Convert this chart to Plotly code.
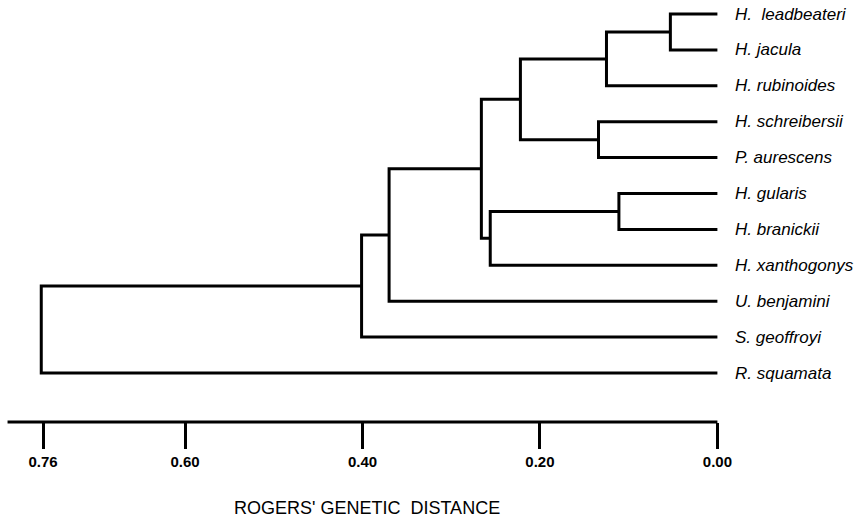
import plotly.graph_objects as go

# ---- data ----
leaves = ["H.  leadbeateri", "H. jacula", "H. rubinoides", "H. schreibersii",
          "P. aurescens", "H. gularis", "H. branickii", "H. xanthogonys",
          "U. benjamini", "S. geoffroyi", "R. squamata"]
# merges: (left child, right child, Rogers' distance); children are leaf names or node ids
merge_left = ["H.  leadbeateri", "n1", "H. schreibersii", "n2", "H. gularis", "n5", "n4", "n7", "n8", "n9"]
merge_right = ["H. jacula", "H. rubinoides", "P. aurescens", "n3", "H. branickii", "H. xanthogonys", "n6", "U. benjamini", "S. geoffroyi", "R. squamata"]
merge_height = [0.053, 0.125, 0.134, 0.222, 0.111, 0.256, 0.266, 0.370, 0.401, 0.762]
tick_values = [0.76, 0.60, 0.40, 0.20, 0.00]
tick_labels = ["0.76", "0.60", "0.40", "0.20", "0.00"]
axis_title = "ROGERS' GENETIC  DISTANCE"

# ---- build tree coordinates ----
pos = {name: (0.0, i) for i, name in enumerate(leaves)}
xs, ys = [], []
for i, (a, b, h) in enumerate(zip(merge_left, merge_right, merge_height)):
    xa, ya = pos[a]
    xb, yb = pos[b]
    xs += [xa, h, h, xb, None]
    ys += [ya, ya, yb, yb, None]
    pos["n%d" % (i + 1)] = (h, (ya + yb) / 2)

fig = go.Figure()
fig.add_trace(go.Scatter(x=xs, y=ys, mode="lines",
                         line=dict(color="black", width=3),
                         hoverinfo="skip", showlegend=False))

for i, name in enumerate(leaves):
    fig.add_annotation(x=0, y=i, text=name, showarrow=False, xanchor="left",
                       xshift=16, yanchor="middle",
                       font=dict(family="Liberation Sans, Arial", size=17,
                                 color="black", style="italic"))

# axis baseline
fig.add_shape(type="line", xref="x", yref="paper", x0=0.80, x1=0.0, y0=0, y1=0,
              line=dict(color="black", width=3))

fig.add_annotation(xref="paper", yref="paper", x=367 / 867, y=0, yshift=-86,
                   text=axis_title, showarrow=False, xanchor="center", yanchor="middle",
                   font=dict(family="Liberation Sans Narrow, Liberation Sans, Arial",
                             size=18, color="black"))

fig.update_xaxes(range=[0.8085, -0.1686], showgrid=False, zeroline=False, showline=False,
                 tickvals=tick_values, ticktext=tick_labels, ticks="outside",
                 ticklen=26, tickwidth=2.5, tickcolor="black",
                 tickfont=dict(family="Liberation Sans Narrow, Liberation Sans, Arial",
                               size=15, color="black", weight="bold"))
fig.update_yaxes(range=[11.365, -0.39], visible=False)

fig.update_layout(width=867, height=522, margin=dict(l=0, r=0, t=0, b=100),
                  plot_bgcolor="white", paper_bgcolor="white")

fig.write_html("out.html", config={"displayModeBar": False},
               post_script="document.body.style.margin='0';")
